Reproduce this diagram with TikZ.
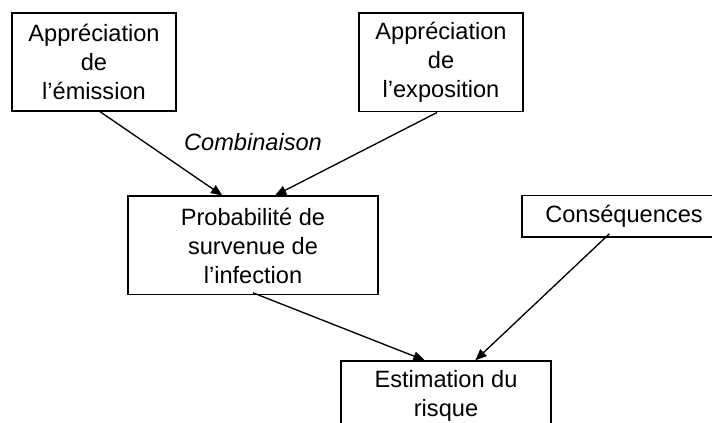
\documentclass[tikz,border=0pt]{standalone}
\usepackage{fontspec}
\setmainfont{Liberation Sans}
\usetikzlibrary{arrows.meta}

\begin{document}
\begin{tikzpicture}[x=0.75pt,y=-0.75pt,
  box/.style={draw,line width=1pt,align=center,inner sep=0pt,
    font=\fontsize{17.7}{21.75}\selectfont},
  link/.style={line width=1pt,-{Triangle[length=8.5pt,width=7pt]}}]
  \useasboundingbox (0,0) rectangle (712,423);
  \clip (0,0) rectangle (712,423);
  \node[box,minimum width=123pt,minimum height=73.5pt] (emission) at (94,62) {Appréciation\\de\\l’émission};
  \node[box,minimum width=123pt,minimum height=74pt] (exposition) at (441,62.5) {Appréciation\\de\\l’exposition};
  \node[font=\fontsize{17.7}{21.75}\selectfont\itshape] (combi) at (253,142) {Combinaison};
  \node[box,minimum width=187.5pt,minimum height=74pt] (proba) at (253,245.5) {Probabilité de\\survenue de\\l’infection};
  \node[box,minimum width=153pt,minimum height=31pt] (csq) at (624,216.5) {Conséquences};
  \node[box,minimum width=157.5pt,minimum height=52.5pt] (estim) at (446,396) {Estimation du\\risque};
  \draw[link] ([xshift=4.5pt]emission.south) -- ([xshift=-23pt]proba.north);
  \draw[link] ([xshift=-3pt]exposition.south) -- ([xshift=16.5pt]proba.north);
  \draw[link] ([yshift=2pt]proba.south) -- ([xshift=-16pt]estim.north);
  \draw[link] ([xshift=-11pt,yshift=3pt]csq.south) -- ([xshift=22pt]estim.north);
\end{tikzpicture}
\end{document}
